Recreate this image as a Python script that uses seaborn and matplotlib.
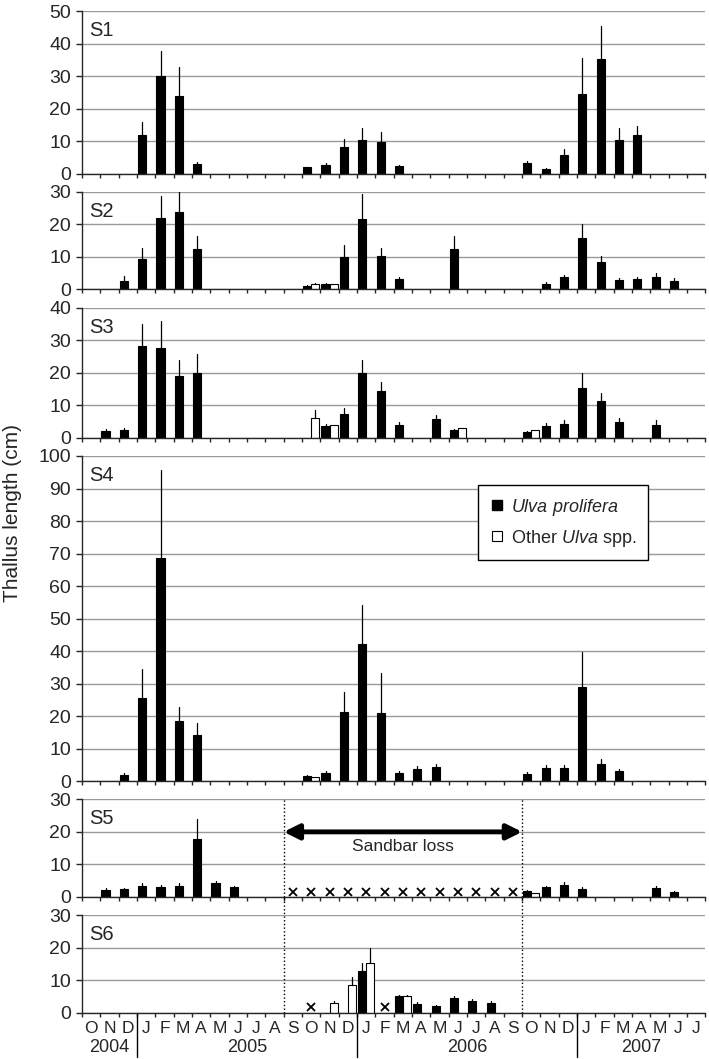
import numpy as np
import pandas as pd
import matplotlib.pyplot as plt
from matplotlib.lines import Line2D
import seaborn as sns

# months Oct 2004 .. Jul 2007 (x categories)
months = pd.period_range('2004-10', '2007-07', freq='M').strftime('%Y-%m').tolist()
month_lab = ['O', 'N', 'D'] + list('JFMAMJJASOND') * 2 + list('JFMAMJJ')
years = ['2004', '2005', '2006', '2007']
species = ['prolifera', 'other']

# ---- data: month index, mean length (cm), upper SD ----
s1_pro_i = [3, 4, 5, 6, 12, 13, 14, 15, 16, 17, 24, 25, 26, 27, 28, 29, 30]
s1_pro = [12.0, 30.0, 24.0, 2.8, 1.9, 2.6, 8.2, 10.3, 9.7, 2.3, 3.3, 1.4, 5.6, 24.6, 35.3, 10.3, 11.9]
s1_pro_sd = [3.8, 7.8, 8.9, 0.8, 0.2, 0.6, 2.4, 3.7, 3.0, 0.4, 0.6, 0.2, 1.9, 10.9, 10.2, 3.7, 2.8]
s1_oth_i, s1_oth, s1_oth_sd = [], [], []

s2_pro_i = [2, 3, 4, 5, 6, 12, 13, 14, 15, 16, 17, 20, 25, 26, 27, 28, 29, 30, 31, 32]
s2_pro = [2.7, 9.4, 21.9, 23.7, 12.5, 1.0, 1.8, 10.0, 21.7, 10.3, 3.3, 12.3, 1.8, 3.7, 15.9, 8.5, 2.9, 3.1, 3.8, 2.7]
s2_pro_sd = [1.3, 3.4, 6.7, 6.5, 3.9, 0.3, 0.2, 3.6, 7.7, 2.3, 0.6, 4.1, 0.6, 0.8, 4.1, 1.7, 0.7, 0.7, 1.3, 0.7]
s2_oth_i = [12, 13]
s2_oth = [1.55, 1.65]
s2_oth_sd = [0.45, 0.05]

s3_pro_i = [1, 2, 3, 4, 5, 6, 13, 14, 15, 16, 17, 19, 20, 24, 25, 26, 27, 28, 29, 31]
s3_pro = [2.0, 2.3, 28.2, 27.6, 18.9, 19.9, 3.5, 7.2, 19.9, 14.3, 4.0, 5.8, 2.4, 1.75, 3.5, 4.2, 15.4, 11.3, 4.7, 3.9]
s3_pro_sd = [0.6, 0.8, 6.7, 8.4, 5.1, 6.0, 0.7, 1.9, 4.1, 2.7, 0.8, 1.1, 0.4, 0.2, 0.9, 1.1, 4.6, 2.6, 1.4, 1.4]
s3_oth_i = [12, 13, 20, 24]
s3_oth = [6.0, 4.0, 2.9, 2.3]
s3_oth_sd = [2.6, 0.0, 0.1, 0.1]

s4_pro_i = [2, 3, 4, 5, 6, 12, 13, 14, 15, 16, 17, 18, 19, 24, 25, 26, 27, 28, 29]
s4_pro = [1.9, 25.7, 68.5, 18.5, 14.2, 1.5, 2.6, 21.4, 42.3, 20.8, 2.6, 3.6, 4.3, 2.2, 4.1, 3.9, 28.8, 5.3, 3.1]
s4_pro_sd = [0.6, 8.8, 27.1, 4.4, 3.7, 0.5, 0.5, 6.1, 11.9, 12.6, 0.5, 1.0, 1.0, 0.6, 1.0, 1.1, 11.0, 1.5, 0.6]
s4_oth_i = [12]
s4_oth = [1.2]
s4_oth_sd = [0.0]

s5_pro_i = [1, 2, 3, 4, 5, 6, 7, 8, 24, 25, 26, 27, 31, 32]
s5_pro = [2.15, 2.3, 3.5, 3.1, 3.3, 17.9, 4.4, 2.9, 1.75, 2.9, 3.6, 2.4, 2.7, 1.55]
s5_pro_sd = [0.55, 0.5, 0.8, 0.7, 0.9, 6.2, 0.6, 0.5, 0.3, 0.5, 0.9, 0.5, 0.6, 0.3]
s5_oth_i = [24]
s5_oth = [1.35]
s5_oth_sd = [0.0]

s6_pro_i = [15, 17, 18, 19, 20, 21, 22]
s6_pro = [12.7, 5.0, 2.8, 2.05, 4.5, 3.5, 3.1]
s6_pro_sd = [2.5, 0.6, 0.5, 0.3, 0.6, 0.6, 0.5]
s6_oth_i = [13, 14, 15, 17]
s6_oth = [2.9, 8.4, 15.2, 5.1]
s6_oth_sd = [0.6, 2.5, 4.6, 0.2]

# months with no sample (x marks)
s5_lost = pd.period_range('2005-09', '2006-09', freq='M').strftime('%Y-%m').tolist()
s6_lost = ['2005-10', '2006-02']
sandbar_from, sandbar_to = '2005-09', '2006-10'

panel_names = ['S1', 'S2', 'S3', 'S4', 'S5', 'S6']
panel_ymax = [50, 30, 40, 100, 30, 30]
panels = [
    (s1_pro_i, s1_pro, s1_pro_sd, s1_oth_i, s1_oth, s1_oth_sd),
    (s2_pro_i, s2_pro, s2_pro_sd, s2_oth_i, s2_oth, s2_oth_sd),
    (s3_pro_i, s3_pro, s3_pro_sd, s3_oth_i, s3_oth, s3_oth_sd),
    (s4_pro_i, s4_pro, s4_pro_sd, s4_oth_i, s4_oth, s4_oth_sd),
    (s5_pro_i, s5_pro, s5_pro_sd, s5_oth_i, s5_oth, s5_oth_sd),
    (s6_pro_i, s6_pro, s6_pro_sd, s6_oth_i, s6_oth, s6_oth_sd),
]


def panel_frame(p_i, p, p_sd, o_i, o, o_sd):
    # two rows per bar: the mean and mean+SD -> bar = min, error line = min..max
    rows = []
    for sp, idx, vals, sds in [('prolifera', p_i, p, p_sd), ('other', o_i, o, o_sd)]:
        for i, v, s in zip(idx, vals, sds):
            rows.append((months[i], sp, v))
            rows.append((months[i], sp, v + s))
    return pd.DataFrame(rows, columns=['month', 'species', 'length'])


sns.set_style('ticks')
plt.rcParams['font.family'] = ['Liberation Sans', 'DejaVu Sans']
plt.rcParams['mathtext.fontset'] = 'custom'
plt.rcParams['mathtext.it'] = 'Liberation Sans:italic'
plt.rcParams['mathtext.rm'] = 'Liberation Sans'

fig = plt.figure(figsize=(7.09, 10.59), dpi=100)
gs = fig.add_gridspec(6, 1, height_ratios=panel_ymax, hspace=0.1206,
                      left=0.1157, right=0.995, top=0.9896, bottom=0.0437)
axes = [fig.add_subplot(gs[k]) for k in range(6)]

for ax, name, ymax, data in zip(axes, panel_names, panel_ymax, panels):
    df = panel_frame(*data)
    sns.barplot(data=df, x='month', y='length', hue='species', order=months,
                hue_order=species, palette={'prolifera': 'black', 'other': 'white'},
                estimator='min', errorbar=lambda v: (v.min(), v.max()),
                err_kws={'color': 'black', 'linewidth': 0.9}, capsize=0, dodge=True,
                width=0.88, edgecolor='black', linewidth=0.8, legend=False, ax=ax)
    ax.set_ylim(0, ymax)
    ax.set_xlim(-0.5, len(months) - 0.5)
    ax.set_yticks(np.arange(0, ymax + 1, 10))
    ax.set_xticks(np.arange(len(months) + 1) - 0.5)
    ax.set_xticklabels([])
    ax.set_xlabel('')
    ax.set_ylabel('')
    ax.grid(axis='y', color='#999999', linewidth=1)
    ax.set_axisbelow(True)
    for s in ['top', 'right']:
        ax.spines[s].set_visible(False)
    ax.spines['left'].set_linewidth(1)
    ax.spines['bottom'].set_linewidth(1)
    ax.tick_params(axis='y', length=4, width=1, pad=4, labelsize=14)
    ax.tick_params(axis='x', which='major', length=3, width=1)
    ax.annotate(name, xy=(0, 1), xycoords='axes fraction', xytext=(5, -14),
                textcoords='offset points', fontsize=14.5, va='center', ha='left')

# x marks: no samples
ax5, ax6 = axes[4], axes[5]
ax5.plot([months.index(m) for m in s5_lost], [1.5] * len(s5_lost), 'x', color='black',
         markersize=5.5, mew=1.3)
ax6.plot([months.index(m) for m in s6_lost], [1.7] * len(s6_lost), 'x', color='black',
         markersize=5.5, mew=1.3)

# sandbar loss period
x0 = months.index(sandbar_from) - 0.5
x1 = months.index(sandbar_to) - 0.5
for xv in [x0, x1]:
    ax5.axvline(xv, color='black', ls=':', lw=1)
    ax6.axvline(xv, ymin=0, ymax=1.2, color='black', ls=':', lw=1, clip_on=False)
ax5.annotate('', xy=(x1, 20), xytext=(x0, 20),
             arrowprops=dict(arrowstyle='<|-|>,head_length=0.9,head_width=0.45',
                             color='black', lw=3.5, shrinkA=0, shrinkB=0))
ax5.text((x0 + x1) / 2, 15.5, 'Sandbar loss', ha='center', va='center', fontsize=12.5)

# bottom axis: month letters and years
ax6.set_xticks(np.arange(len(months)), minor=True)
ax6.set_xticklabels(month_lab, minor=True)
ax6.tick_params(axis='x', which='minor', length=0, pad=6, labelsize=12.5)
for y in years:
    idx = [i for i, m in enumerate(months) if m.startswith(y)]
    ax6.text((idx[0] + idx[-1]) / 2, -0.36, y, transform=ax6.get_xaxis_transform(),
             ha='center', va='center', fontsize=13)
    if idx[0] > 0:
        ax6.axvline(idx[0] - 0.5, ymin=-0.453, ymax=0, color='black', lw=1, clip_on=False)

# legend in S4
handles = [Line2D([], [], marker='s', ls='none', markersize=7, color='black'),
           Line2D([], [], marker='s', ls='none', markersize=7, markerfacecolor='white',
                  markeredgecolor='black', markeredgewidth=0.8)]
labels = [r'$\mathit{Ulva\ prolifera}$', r'Other $\mathit{Ulva}$ spp.']
leg = fig.legend(handles, labels, loc='upper left', bbox_to_anchor=(0.674, 0.542),
                 bbox_transform=fig.transFigure, fontsize=13, frameon=True, fancybox=False,
                 edgecolor='black', framealpha=1, handlelength=0.8, handletextpad=0.4,
                 borderpad=0.65, labelspacing=0.55, borderaxespad=0)
leg.get_frame().set_linewidth(1)

fig.text(0.017, 0.516, 'Thallus length (cm)', rotation=90, ha='center', va='center',
         fontsize=15)

fig.savefig('out.png', dpi=100)
